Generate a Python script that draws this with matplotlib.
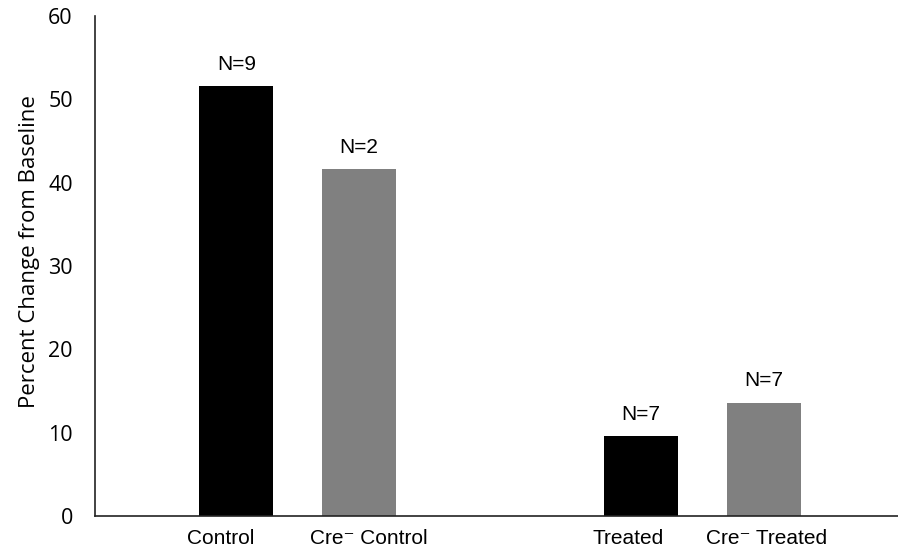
import matplotlib
matplotlib.use("Agg")
import matplotlib.pyplot as plt

# Data
categories = ["Control", "Cre\u207b Control", "Treated", "Cre\u207b Treated"]
values = [51.6, 41.6, 9.6, 13.6]
n_labels = ["N=9", "N=2", "N=7", "N=7"]
positions = [0, 1, 3.3, 4.3]
colors = ["#000000", "#808080", "#000000", "#808080"]

# the category labels in the original sit a little off the bar centres
label_shift = [-0.13, 0.08, -0.11, 0.02]

fig = plt.figure(figsize=(8.98, 5.48), dpi=100)
ax = fig.add_axes([95 / 898, 32 / 548, 803 / 898, 500 / 548])

ax.bar(positions, values, width=0.603, color=colors)

for x, v, lab in zip(positions, values, n_labels):
    ax.text(x, v + 1.95, lab, ha="center", va="baseline", fontsize=15,
            family=["Liberation Sans", "DejaVu Sans"])

ax.set_xlim(-1.152, 5.393)
ax.set_ylim(0, 60)
ax.set_yticks(range(0, 61, 10))
ax.set_xticks([p + d for p, d in zip(positions, label_shift)])
ax.set_xticklabels(categories, fontsize=15, family=["Liberation Sans", "DejaVu Sans"])
for t in ax.get_yticklabels():
    t.set_family("Open Sans")
    t.set_fontsize(15.5)
ax.tick_params(axis="both", length=0)
ax.tick_params(axis="y", pad=16)
ax.tick_params(axis="x", pad=9)

ax.set_ylabel("Percent Change from Baseline", fontsize=16, family="Open Sans")
ax.yaxis.set_label_coords(-0.069, 0.528)

for s in ["top", "right"]:
    ax.spines[s].set_visible(False)
for s in ["left", "bottom"]:
    ax.spines[s].set_color("#222222")
    ax.spines[s].set_linewidth(1.2)

fig.savefig("out.png", dpi=100)
